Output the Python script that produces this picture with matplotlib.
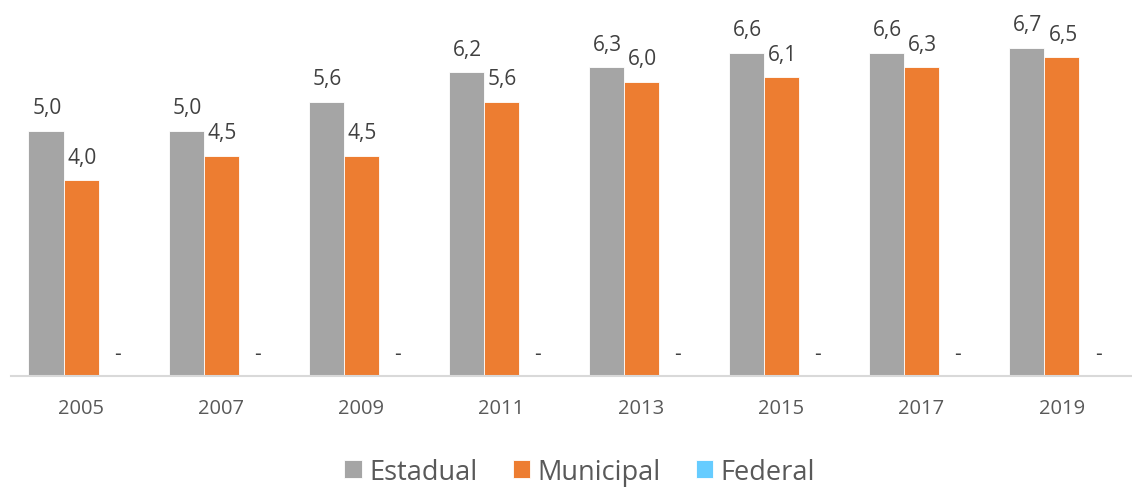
import matplotlib.pyplot as plt
import numpy as np

anos = ['2005', '2007', '2009', '2011', '2013', '2015', '2017', '2019']
estadual = [5.0, 5.0, 5.6, 6.2, 6.3, 6.6, 6.6, 6.7]
municipal = [4.0, 4.5, 4.5, 5.6, 6.0, 6.1, 6.3, 6.5]
federal = [0, 0, 0, 0, 0, 0, 0, 0]

series = [('Estadual', estadual, '#A5A5A5'),
          ('Municipal', municipal, '#ED7D31'),
          ('Federal', federal, '#66CCFF')]

plt.rcParams['font.family'] = ['Open Sans', 'DejaVu Sans']

fig = plt.figure(figsize=(11.32, 4.89), dpi=100)
ax = fig.add_axes([0.0097, 0.229, 0.99, 0.7546])

x = np.arange(len(anos))
w = 0.25
handles = []
for i, (nome, vals, cor) in enumerate(series):
    pos = x + (i - 1) * w
    b = ax.bar(pos, vals, w, color=cor, edgecolor='white', linewidth=0.6, label=nome)
    handles.append(b)
    for px, v in zip(pos, vals):
        txt = '-' if v == 0 else f'{v:.1f}'.replace('.', ',')
        ax.annotate(txt, (px, v), xytext=(1, 9), textcoords='offset points',
                    ha='center', va='bottom', fontsize=15, color='#404040')

ax.set_xlim(-0.5, len(anos) - 0.5)
ax.set_ylim(0, 7.53)
ax.set_xticks(x)
ax.set_xticklabels(anos, fontsize=14.5, color='#595959')
ax.tick_params(axis='x', length=0, pad=16)
ax.set_yticks([])
for s in ['top', 'right', 'left']:
    ax.spines[s].set_visible(False)
ax.spines['bottom'].set_color('#D9D9D9')
ax.spines['bottom'].set_linewidth(1.5)

fig.legend(handles=handles, loc='center', bbox_to_anchor=(0.512, 0.033), ncol=3,
           frameon=False, fontsize=19.5, handlelength=0.66, handleheight=0.66,
           handletextpad=0.25, columnspacing=1.3, labelcolor='#595959')

plt.savefig('out.png', dpi=100)
